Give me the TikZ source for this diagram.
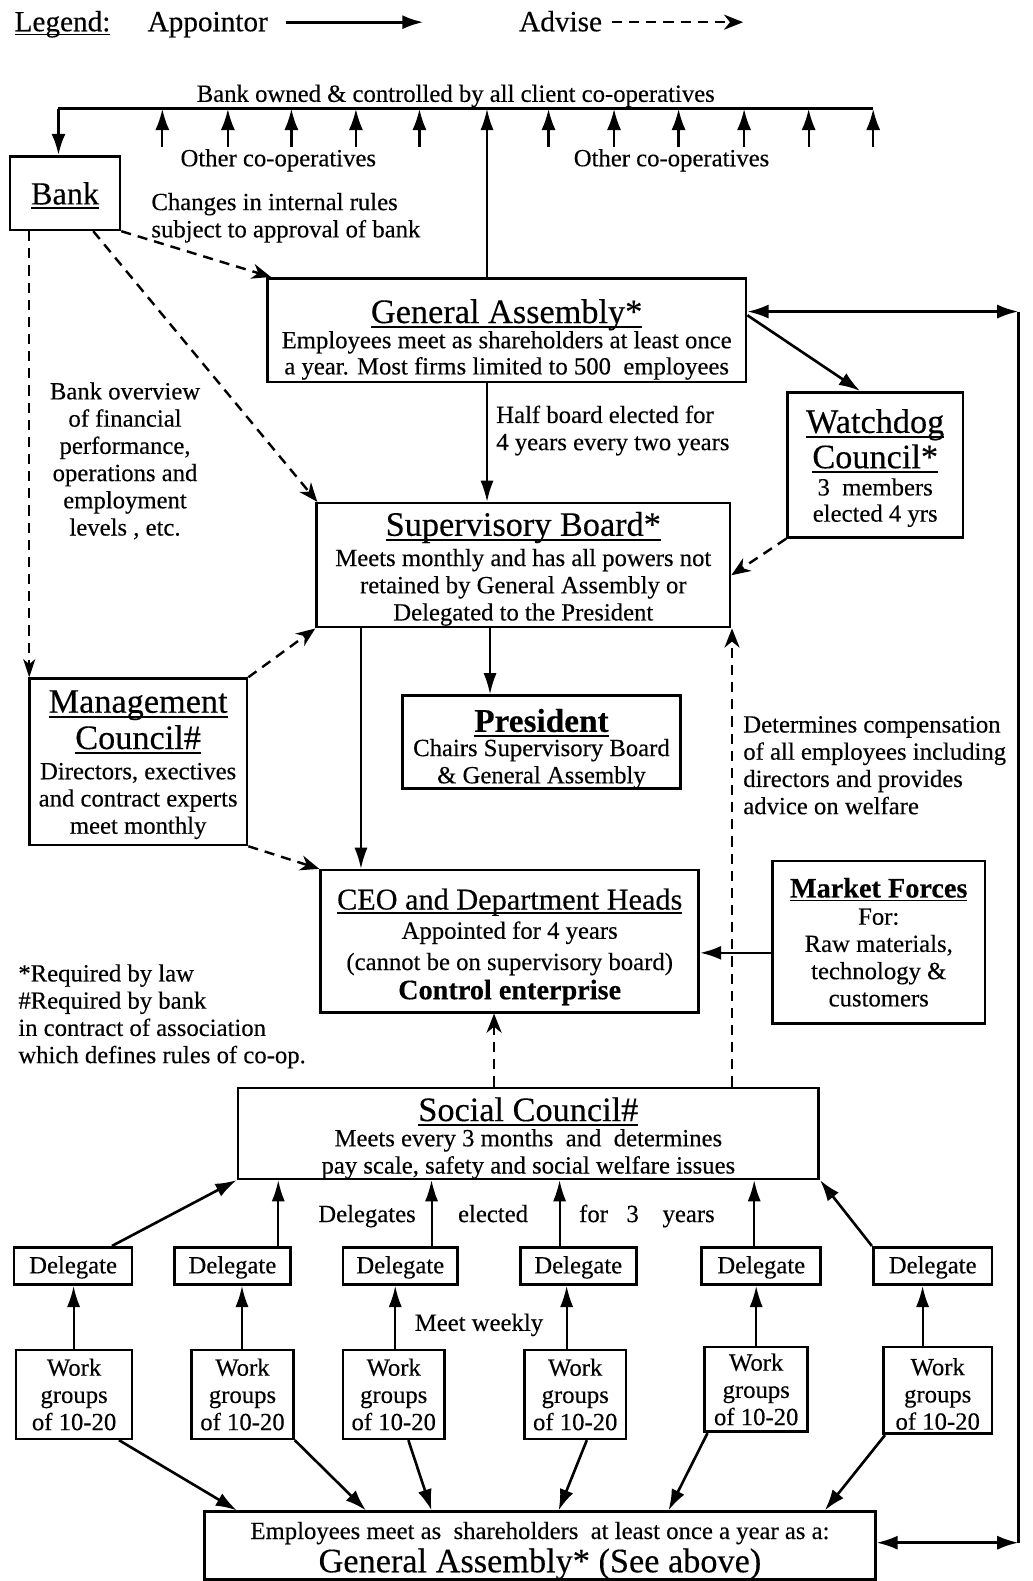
\documentclass[tikz,border=0pt]{standalone}
\usepackage{fontspec}
\setmainfont{Liberation Serif}[FakeBold=0.3]
\usetikzlibrary{arrows.meta,calc}
\newcommand\myul[1]{\setbox0\hbox{#1}\rlap{\rule[-0.14em]{\wd0}{0.055em}}\box0}
\newcommand\tup[1]{\rule{0pt}{#1pt}}
\newcommand\fbody{\fontsize{24.5}{27}\selectfont\lineskiplimit=-60pt\lineskip=0pt}
\newcommand\ftitle{\fontsize{34}{36}\selectfont}
\tikzset{
  box/.style={draw, line width=2.6pt, inner sep=0pt, align=center, font=\fbody},
  lbl/.style={inner sep=0pt, font=\fbody},
  arr/.style={line width=2.6pt, -{Latex[length=21pt,width=14pt]}},
  tarr/.style={line width=2pt, -{Latex[length=21pt,width=13pt]}},
  darr/.style={line width=2.4pt, dash pattern=on 10pt off 7pt, -{Stealth[length=19pt,width=15pt,inset=6pt]}},
  dline/.style={line width=2.3pt, dash pattern=on 10pt off 7pt},
  dbl/.style={line width=2.6pt, {Latex[length=21pt,width=14pt]}-{Latex[length=21pt,width=14pt]}},
}
\begin{document}
\begin{tikzpicture}[x=1pt,y=-1pt]
\useasboundingbox[fill=white] (0,0) rectangle (1024,1568);

% legend
\node[inner sep=0pt, anchor=base, font=\fontsize{29}{31}\selectfont] (leg) at (62,31) {\myul{Legend:}};
\node[inner sep=0pt, anchor=base, font=\fontsize{29}{31}\selectfont] (appt) at (206,31) {Appointor};
\node[inner sep=0pt, anchor=base, font=\fontsize{29}{31}\selectfont] (adv) at (556,31) {Advise};
\coordinate (la1) at (284,22); \coordinate (la2) at (420,22);
\coordinate (lb1) at (607,22); \coordinate (lb2) at (737,22);
\draw[arr, line width=3pt] (la1) -- (la2);
\draw[darr] (lb1) -- (lb2);

% bus
\coordinate (busL) at (58,108); \coordinate (busR) at (866,108);
\draw[line width=2.8pt] (busL) -- (busR);
\node[lbl, anchor=base] (buslbl) at (452,101) {Bank owned \& controlled by all client co-operatives};
\foreach \i/\x in {1/161,2/226,3/289,4/353,5/416,6/544,7/609,8/673,9/738,10/802,11/866}{
  \coordinate (c\i) at (\x,146);
  \draw[arr, line width=2.2pt] (c\i) -- (c\i |- busL);
}
\node[lbl] (oc1) at (276,159) {Other co-operatives};
\node[lbl] (oc2) at (666,159) {Other co-operatives};

% boxes
\node[box, minimum width=109pt, minimum height=73pt] (bank) at (64.5,191.5) {\fontsize{32}{34}\selectfont\tup{27}\myul{Bank}};
\node[lbl, anchor=west, align=left] (chg) at (150,216) {Changes in internal rules\\subject to approval of bank};

\node[box, minimum width=475pt, minimum height=103pt] (ga) at (502.5,327.5)
 {{\ftitle\tup{42}\myul{General Assembly*}}\\[-2pt]Employees meet as shareholders at least once\\[-1pt]a year. Most firms limited to 500~ employees};

\node[box, minimum width=174pt, minimum height=144pt] (wd) at (868,461)
 {{\ftitle\tup{30}\myul{Watchdog}}\\[8pt]{\ftitle\myul{Council*}}\\3~ members\\[-1pt]elected 4 yrs};

\node[box, minimum width=410pt, minimum height=123pt] (sb) at (519,560.5)
 {{\ftitle\tup{31}\myul{Supervisory Board*}}\\[3pt]Meets monthly and has all powers not\\retained by General Assembly or\\Delegated to the President};

\node[box, minimum width=216pt, minimum height=165pt] (mc) at (137,755.5)
 {{\ftitle\tup{28}\myul{Management}}\\[9pt]{\ftitle\myul{Council\#}}\\[3pt]Directors, exectives\\and contract experts\\meet monthly};

\node[box, minimum width=276pt, minimum height=88pt] (pres) at (537,736)
 {{\fontsize{33}{35}\selectfont\bfseries\tup{36}\myul{President}}\\[-3pt]Chairs Supervisory Board\\\& General Assembly};

\node[box, minimum width=375pt, minimum height=141pt] (ceo) at (505.5,933.5)
 {{\fontsize{30}{32}\selectfont\tup{32}\myul{CEO and Department Heads}}\\[2pt]Appointed for 4 years\\[4pt](cannot be on supervisory board)\\[2pt]{\fontsize{28}{30}\selectfont\bfseries Control enterprise}};

\node[box, minimum width=211pt, minimum height=161pt] (mkt) at (871.5,934.5)
 {{\fontsize{28}{30}\selectfont\bfseries\myul{Market Forces}}\\For:\\Raw materials,\\technology \&\\customers};

\node[box, minimum width=576pt, minimum height=88pt] (sc) at (524,1124)
 {{\ftitle\tup{33}\myul{Social Council\#}}\\[-2pt]Meets every 3 months~ and~ determines\\pay scale, safety and social welfare issues};

\node[box, minimum width=665pt, minimum height=66pt] (bot) at (535.5,1533)
 {\tup{27}Employees meet as~ shareholders~ at least once a year as a:\\[6pt]{\ftitle General Assembly* (See above)}};

% labels
\node[lbl, align=center] (bov) at (124,457) {Bank overview\\of financial\\performance,\\operations and\\employment\\levels , etc.};
\node[lbl, anchor=west, align=left] (half) at (492,427) {Half board elected for\\4 years every two years};
\node[lbl, anchor=west, align=left] (det) at (737,759) {Determines compensation\\of all employees including\\directors and provides\\advice on welfare};
\node[lbl, anchor=west, align=left] (notes) at (18,1008) {*Required by law\\\#Required by bank\\in contract of association\\which defines rules of co-op.};

% delegates
\foreach \n/\x/\w in {1/72.5/117,2/230.5/115,3/397/114,4/573.5/115,5/755/118,6/925/118}{
  \node[box, minimum width=\w pt, minimum height=37pt] (d\n) at (\x,1255.5) {\tup{20}Delegate};
}
\node[box, minimum width=115pt, minimum height=88pt] (w1) at (73.5,1383) {Work\\groups\\of 10-20};
\node[box, minimum width=101pt, minimum height=88pt] (w2) at (240.5,1383) {Work\\groups\\of 10-20};
\node[box, minimum width=101pt, minimum height=88pt] (w3) at (390.5,1383) {Work\\groups\\of 10-20};
\node[box, minimum width=101pt, minimum height=88pt] (w4) at (570.5,1383) {Work\\groups\\of 10-20};
\node[box, minimum width=102pt, minimum height=84pt] (w5) at (750,1378) {Work\\groups\\of 10-20};
\node[box, minimum width=108pt, minimum height=86pt] (w6) at (930,1379) {\tup{24}Work\\groups\\of 10-20};

\node[lbl, anchor=base] (t1) at (364,1212) {Delegates};
\node[lbl, anchor=base] (t2) at (489,1212) {elected};
\node[lbl, anchor=base] (t3) at (604,1212) {for~~ 3};
\node[lbl, anchor=base] (t4) at (683,1212) {years};
\node[lbl] (mw) at (475,1314) {Meet weekly};

% connectors top
\draw[arr] (busL) -- (busL |- bank.north);
\draw[tarr] ($(ga.north)+(-19.5,0)$) coordinate (g1) -- (g1 |- busL);
\draw[tarr] ($(ga.south)+(-19.5,0)$) coordinate (g2) -- (g2 |- sb.north);
\draw[arr] ($(ga.north east)+(0,38)$) -- ($(wd.north)+(-15,0)$);
\coordinate (rtop) at (1010,309);
\coordinate (rbot) at (1010,1530);
\draw[dbl] (ga.north east |- rtop) -- (rtop);
\draw[dbl] (bot.east |- rbot) -- (rbot);
\draw[line width=2.6pt] (rtop) -- (rbot);

\draw[darr] (bank.south east) -- ($(ga.north west)+(5,0)$);
\draw[darr] ($(bank.south)+(28,0)$) -- ($(sb.north west)+(2,0)$);
\draw[dline, -{Stealth[length=18pt,width=12pt,inset=5pt]}, line width=1.8pt] ($(bank.south)+(-35.5,0)$) coordinate (b1) -- (b1 |- mc.north);
\draw[darr] (wd.south west) -- ($(sb.east)+(0,10)$);
\draw[darr] (mc.north east) -- (sb.south west);
\draw[darr] (mc.south east) -- (ceo.north west);

\draw[tarr] ($(sb.south)+(-161,0)$) coordinate (s1) -- (s1 |- ceo.north);
\draw[tarr] ($(sb.south)+(-33,0)$) coordinate (s2) -- (s2 |- pres.north);
\draw[arr] ($(mkt.west)+(0,10.5)$) coordinate (m1) -- (m1 -| ceo.east);
\draw[darr] ($(sc.north)+(-34,0)$) coordinate (s3) -- (s3 |- ceo.south);
\draw[darr] ($(sc.north)+(202,0)$) coordinate (s4) -- (s4 |- sb.south);

% delegates -> social council
\draw[arr] ($(d1.north)+(38.5,0)$) -- (sc.south west);
\draw[tarr] ($(d2.north)+(45.5,0)$) coordinate (e2) -- (e2 |- sc.south);
\draw[tarr] ($(d3.north)+(31,0)$) coordinate (e3) -- (e3 |- sc.south);
\draw[tarr] ($(d4.north)+(-18.5,0)$) coordinate (e4) -- (e4 |- sc.south);
\draw[tarr] ($(d5.north)+(-7,0)$) coordinate (e5) -- (e5 |- sc.south);
\draw[arr] (d6.north west) -- (sc.south east);

% work groups -> delegates
\draw[tarr] ($(w1.north)+(-0.5,0)$) coordinate (f1) -- (f1 |- d1.south);
\draw[tarr] ($(w2.north)+(-0.5,0)$) coordinate (f2) -- (f2 |- d2.south);
\draw[tarr] ($(w3.north)+(1.5,0)$) coordinate (f3) -- (f3 |- d3.south);
\draw[tarr] ($(w4.north)+(-8.5,0)$) coordinate (f4) -- (f4 |- d4.south);
\draw[tarr] (w5.north) coordinate (f5) -- (f5 |- d5.south);
\draw[tarr] ($(w6.north)+(-15,0)$) coordinate (f6) -- (f6 |- d6.south);

% work groups -> bottom GA
\draw[arr] ($(w1.south)+(44.5,0)$) -- ($(bot.north)+(-300.5,0)$);
\draw[arr] (w2.south east) -- ($(bot.north)+(-172.5,0)$);
\draw[arr] ($(w3.south)+(14.5,0)$) -- ($(bot.north)+(-107.5,0)$);
\draw[arr] ($(w4.south)+(11.5,0)$) -- ($(bot.north)+(18.5,0)$);
\draw[arr] ($(w5.south west)+(4,0)$) -- ($(bot.north)+(127.5,0)$);
\draw[arr] ($(w6.south west)+(3,0)$) -- ($(bot.north)+(282.5,0)$);
\end{tikzpicture}
\end{document}
